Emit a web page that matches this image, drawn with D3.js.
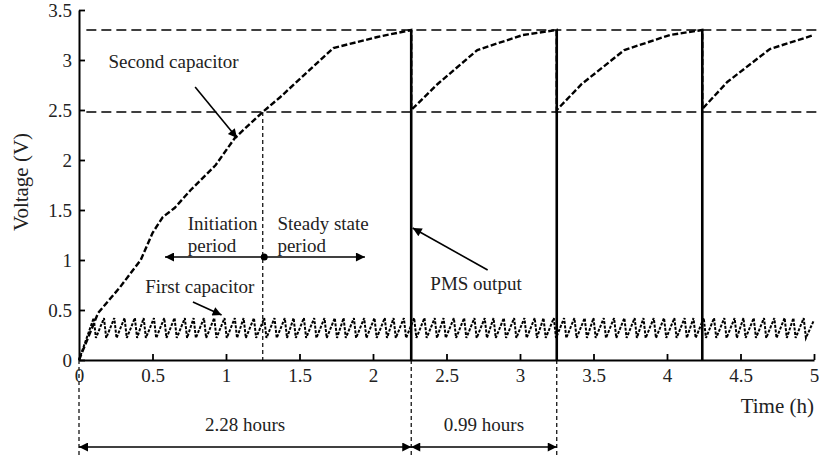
<!DOCTYPE html>
<html>
<head>
<meta charset="utf-8">
<script src="https://cdn.jsdelivr.net/npm/d3@7"></script>
<style>
  body { margin: 0; background: #fff; }
  text { font-family: "Liberation Serif", "DejaVu Serif", serif; fill: #222; }
</style>
</head>
<body>
<div id="chart"></div>
<script>
// DATA
const xTicks = [0, 0.5, 1, 1.5, 2, 2.5, 3, 3.5, 4, 4.5, 5];
const yTicks = [0, 0.5, 1, 1.5, 2, 2.5, 3, 3.5];

// second capacitor voltage (h, V)
const secondCapT = [0, 0.13, 0.28, 0.42, 0.50, 0.57, 0.65, 0.76, 0.93, 1.06, 1.25, 1.37, 1.73, 2.03, 2.26,
                    2.26, 2.44, 2.71, 3.02, 3.25,
                    3.25, 3.42, 3.71, 4.02, 4.24,
                    4.24, 4.41, 4.70, 5.0];
const secondCapV = [0, 0.47, 0.73, 1.0, 1.27, 1.43, 1.52, 1.70, 1.95, 2.22, 2.48, 2.63, 3.12, 3.23, 3.30,
                    2.50, 2.76, 3.10, 3.25, 3.30,
                    2.50, 2.76, 3.10, 3.25, 3.30,
                    2.51, 2.78, 3.11, 3.25];

// first capacitor sawtooth peaks (h)
const firstCapPeaks = [0.10, 0.17, 0.24, 0.31, 0.38, 0.44, 0.51, 0.58, 0.65, 0.72, 0.78, 0.85, 0.92, 0.99,
  1.06, 1.12, 1.19, 1.26, 1.33, 1.40, 1.46, 1.53, 1.60, 1.67, 1.74, 1.80, 1.87, 1.94, 2.01, 2.08, 2.14,
  2.21, 2.28, 2.35, 2.42, 2.48, 2.55, 2.62, 2.69, 2.76, 2.82, 2.89, 2.96, 3.03, 3.10, 3.16, 3.23, 3.30,
  3.37, 3.44, 3.50, 3.57, 3.64, 3.71, 3.78, 3.84, 3.91, 3.98, 4.05, 4.12, 4.18, 4.25, 4.32, 4.39, 4.46,
  4.52, 4.59, 4.66, 4.73, 4.80, 4.86, 4.93];
const firstCapLevels = [0.22, 0.42]; // low, high

// PMS output pulses
const pmsTimes = [2.26, 3.25, 4.24];
const pmsHigh = 3.3;
const thresholds = [3.3, 2.48];
const steadyStart = 1.25;

// DIMENSIONS
const width = 819, height = 456;
const fs = '19px';
const x = d3.scaleLinear().domain([0, 5]).range([79, 814]);
const y = d3.scaleLinear().domain([0, 3.5]).range([360, 10]);

const svg = d3.select('#chart').append('svg')
  .attr('width', width).attr('height', height);

const defs = svg.append('defs');
defs.append('marker')
  .attr('id', 'arr')
  .attr('viewBox', '0 0 10 10')
  .attr('refX', 10).attr('refY', 5)
  .attr('markerWidth', 12).attr('markerHeight', 9)
  .attr('markerUnits', 'userSpaceOnUse')
  .attr('orient', 'auto-start-reverse')
  .append('path').attr('d', 'M0,0 L10,5 L0,10 Z').attr('fill', '#000');

// threshold lines
svg.selectAll('.thr').data(thresholds).enter().append('line')
  .attr('x1', x(0.05)).attr('x2', width)
  .attr('y1', d => y(d)).attr('y2', d => y(d))
  .attr('stroke', '#000').attr('stroke-width', 1.3)
  .attr('stroke-dasharray', '10,5');

// steady state marker line
svg.append('line')
  .attr('x1', x(steadyStart)).attr('x2', x(steadyStart))
  .attr('y1', y(thresholds[1])).attr('y2', y(0))
  .attr('stroke', '#000').attr('stroke-width', 1.2)
  .attr('stroke-dasharray', '4,3');

// dashed guides below axis
svg.selectAll('.guide').data([0, pmsTimes[0], pmsTimes[1]]).enter().append('line')
  .attr('x1', d => x(d)).attr('x2', d => x(d))
  .attr('y1', y(0)).attr('y2', height)
  .attr('stroke', '#000').attr('stroke-width', 1.2)
  .attr('stroke-dasharray', '4,3');

// first capacitor
let firstCap = [[0, 0]];
firstCapPeaks.forEach(p => {
  firstCap.push([p, firstCapLevels[1]]);
  firstCap.push([p + 0.015, firstCapLevels[0]]);
});
firstCap.push([5, firstCapLevels[1] - 0.02]);
const line = d3.line().x(d => x(d[0])).y(d => y(d[1]));
svg.append('path')
  .datum(firstCap)
  .attr('fill', 'none').attr('stroke', '#000').attr('stroke-width', 2)
  .attr('stroke-dasharray', '3,1.5')
  .attr('d', line);

// second capacitor
svg.append('path')
  .datum(secondCapT.map((t, i) => [t, secondCapV[i]]))
  .attr('fill', 'none').attr('stroke', '#000').attr('stroke-width', 2.4)
  .attr('stroke-dasharray', '6,2.5')
  .attr('d', line);

// PMS output
svg.selectAll('.pms').data(pmsTimes).enter().append('line')
  .attr('x1', d => x(d)).attr('x2', d => x(d))
  .attr('y1', y(0)).attr('y2', y(pmsHigh))
  .attr('stroke', '#000').attr('stroke-width', 2.6);

// axes
const fmt = d => String(d);
const xAxis = svg.append('g')
  .attr('transform', `translate(0,${y(0)})`)
  .call(d3.axisBottom(x).tickValues(xTicks).tickFormat(fmt).tickSize(-6).tickSizeOuter(0).tickPadding(9));
const yAxis = svg.append('g')
  .attr('transform', `translate(${x(0)},0)`)
  .call(d3.axisLeft(y).tickValues(yTicks).tickFormat(fmt).tickSize(-6).tickSizeOuter(0).tickPadding(7));
[xAxis, yAxis].forEach(g => {
  g.selectAll('path.domain').attr('stroke', '#000').attr('stroke-width', 2);
  g.selectAll('.tick line').attr('stroke', '#000').attr('stroke-width', 1.8);
  g.selectAll('text').style('font-family', '"Liberation Serif", serif').style('font-size', fs).attr('fill', '#222');
});
xAxis.select('.tick line').remove();

// axis titles
svg.append('text')
  .attr('transform', `translate(28,${y(1.78)}) rotate(-90)`)
  .attr('text-anchor', 'middle').style('font-size', '21px')
  .text('Voltage (V)');
svg.append('text')
  .attr('x', x(5)).attr('y', y(-0.53))
  .attr('text-anchor', 'end').style('font-size', '21px')
  .text('Time (h)');

// annotations
function arrow(t1, v1, t2, v2, both) {
  const l = svg.append('line')
    .attr('x1', x(t1)).attr('y1', y(v1)).attr('x2', x(t2)).attr('y2', y(v2))
    .attr('stroke', '#000').attr('stroke-width', 1.6)
    .attr('marker-end', 'url(#arr)');
  if (both) l.attr('marker-start', 'url(#arr)');
}
function label(t, v, txt, anchor) {
  svg.append('text').attr('x', x(t)).attr('y', y(v))
    .attr('text-anchor', anchor || 'start').style('font-size', fs).text(txt);
}

label(0.2, 2.92, 'Second capacitor');
arrow(0.79, 2.73, 1.075, 2.22);

label(0.74, 1.30, 'Initiation');
label(0.74, 1.08, 'period');
label(1.35, 1.30, 'Steady state');
label(1.35, 1.08, 'period');
arrow(1.26, 1.03, 0.585, 1.03);
arrow(1.26, 1.03, 1.945, 1.03);
svg.append('circle').attr('cx', x(1.26)).attr('cy', y(1.03)).attr('r', 3.5).attr('fill', '#000');

label(0.45, 0.67, 'First capacitor');
arrow(0.775, 0.58, 0.97, 0.45);

label(2.39, 0.70, 'PMS output');
arrow(2.78, 0.9, 2.27, 1.32);

// durations
arrow(pmsTimes[0], -0.87, 0, -0.87, true);
arrow(pmsTimes[0], -0.87, pmsTimes[1], -0.87, true);
label((0 + pmsTimes[0]) / 2, -0.71, '2.28 hours', 'middle');
label((pmsTimes[0] + pmsTimes[1]) / 2, -0.71, '0.99 hours', 'middle');
</script>
</body>
</html>
